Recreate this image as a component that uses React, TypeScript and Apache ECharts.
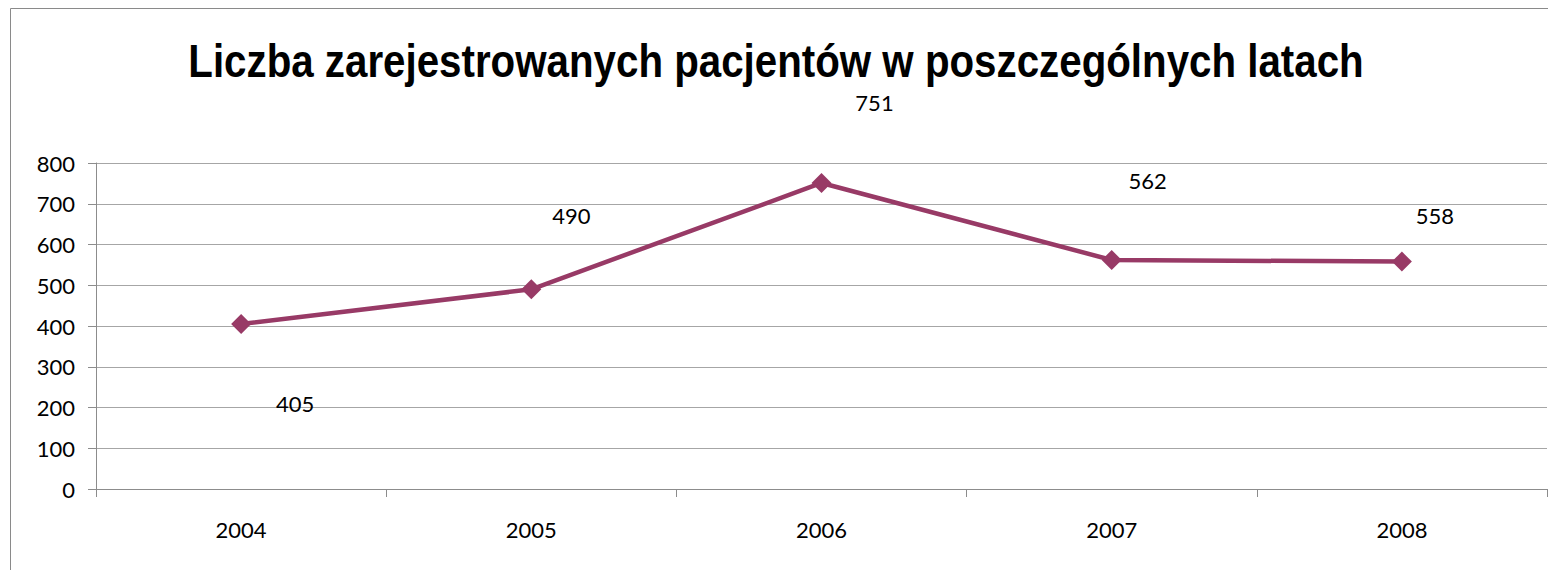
import React, { useEffect, useRef } from "react";
import * as echarts from "echarts";

const title = "Liczba zarejestrowanych pacjentów w poszczególnych latach";
const years = ["2004", "2005", "2006", "2007", "2008"];
const patients = [405, 490, 751, 562, 558];
const labelOffsets: [number, number][] = [
  [54, 80],
  [40, -74],
  [53, -80],
  [36, -79],
  [33, -46],
];

export default function App() {
  const ref = useRef<HTMLDivElement>(null);
  useEffect(() => {
    if (!ref.current) return;
    const chart = echarts.init(ref.current, null, { renderer: "svg" });
    const titleFont = "bold 46px 'Liberation Sans', Arial, sans-serif";
    let scaleX = 0.82;
    try {
      const c = document.createElement("canvas").getContext("2d");
      if (c) {
        c.font = titleFont;
        const w = c.measureText(title).width;
        if (w > 0) scaleX = 1176 / w;
      }
    } catch (e) {}
    const lato = "Lato, 'Open Sans', sans-serif";
    chart.setOption({
      animation: false,
      backgroundColor: "#ffffff",
      graphic: [
        {
          type: "rect",
          shape: { x: 10.5, y: 8.5, width: 1600, height: 600 },
          style: { fill: "none", stroke: "#8a8a8a", lineWidth: 1 },
          silent: true,
          z: -1,
        },
        {
          type: "text",
          x: 776,
          y: 38,
          scaleX: scaleX,
          scaleY: 1,
          style: {
            text: title,
            font: titleFont,
            fill: "#000000",
            textAlign: "center",
            textVerticalAlign: "top",
          },
          silent: true,
        },
      ],
      grid: { left: 96, right: 1, top: 163, bottom: 81, containLabel: false },
      xAxis: {
        type: "category",
        data: years,
        boundaryGap: true,
        axisLine: { show: true, lineStyle: { color: "#8c8c8c", width: 1 } },
        axisTick: { show: true, length: 8, lineStyle: { color: "#8c8c8c" } },
        axisLabel: {
          margin: 29,
          fontSize: 22,
          color: "#000000",
          fontFamily: lato,
        },
        splitLine: { show: false },
      },
      yAxis: {
        type: "value",
        min: 0,
        max: 800,
        interval: 100,
        axisLine: { show: true, lineStyle: { color: "#8c8c8c", width: 1 } },
        axisTick: { show: true, length: 8, lineStyle: { color: "#8c8c8c" } },
        axisLabel: {
          margin: 21,
          fontSize: 22,
          color: "#000000",
          fontFamily: lato,
        },
        splitLine: { show: true, lineStyle: { color: "#a6a6a6", width: 1 } },
      },
      series: [
        {
          type: "line",
          data: patients.map((v, i) => ({
            value: v,
            label: { offset: labelOffsets[i] },
          })),
          symbol: "diamond",
          symbolSize: 20,
          lineStyle: { color: "#983a66", width: 4.5 },
          itemStyle: { color: "#983a66" },
          label: {
            show: true,
            position: "inside",
            fontSize: 22,
            color: "#000000",
            fontFamily: lato,
          },
        },
      ],
    });
    return () => chart.dispose();
  }, []);
  return (
    <div
      ref={ref}
      style={{ position: "fixed", left: 0, top: 0, width: 1548, height: 570 }}
    />
  );
}
